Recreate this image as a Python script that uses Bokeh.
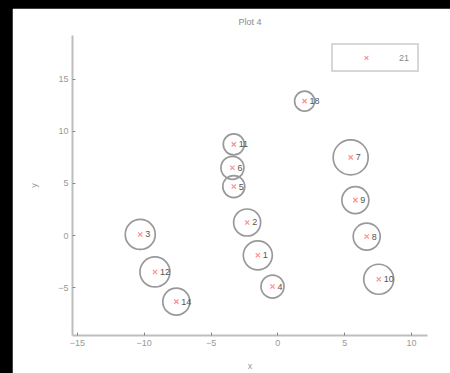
from bokeh.plotting import figure
from bokeh.models import ColumnDataSource, Range1d, FixedTicker
from bokeh.embed import file_html
from bokeh.resources import INLINE
from bokeh.core.properties import value

# data
labels = ["18", "11", "6", "5", "2", "1", "4", "3", "12", "14", "7", "9", "8", "10"]
xs = [2.0, -3.3, -3.4, -3.3, -2.3, -1.5, -0.4, -10.3, -9.2, -7.6, 5.45, 5.8, 6.65, 7.55]
ys = [12.9, 8.75, 6.5, 4.7, 1.25, -1.9, -4.9, 0.1, -3.5, -6.35, 7.5, 3.4, -0.1, -4.2]
circle_sizes = [20, 21, 23, 22, 27, 29, 23, 30, 30, 27, 35, 27, 27, 30]
legend_name = "21"
title_text = "Plot 4"
x_ticks = [-15, -10, -5, 0, 5, 10]
y_ticks = [-5, 0, 5, 10, 15]

src = ColumnDataSource(dict(x=xs, y=ys, lab=labels, s=circle_sizes))

FONT = "Liberation Sans"
p = figure(width=438, height=365, output_backend="svg", toolbar_location=None,
           x_range=Range1d(-15.37, 11.2), y_range=Range1d(-9.6, 19.2),
           min_border_left=60, min_border_right=23, min_border_top=27, min_border_bottom=38,
           title=title_text)
p.background_fill_color = "white"
p.border_fill_color = "white"
p.outline_line_color = "white"
p.outline_line_width = 3
p.xgrid.visible = False
p.ygrid.visible = False

p.title.align = "center"
p.title.text_font = FONT
p.title.text_font_size = "9px"
p.title.text_font_style = "normal"
p.title.text_color = "#8a8a8a"
p.title.vertical_align = "top"
p.title.standoff = 14

for ax, ticks in ((p.xaxis[0], x_ticks), (p.yaxis[0], y_ticks)):
    ax.ticker = FixedTicker(ticks=ticks)
    ax.axis_line_color = "#bdbdbd"
    ax.axis_line_width = 2
    ax.major_tick_line_color = "#888888"
    ax.major_tick_in = 3
    ax.major_tick_out = 0
    ax.minor_tick_line_color = None
    ax.major_label_text_font = FONT
    ax.major_label_text_font_size = "9px"
    ax.major_label_text_color = "#999999"
    ax.axis_label_text_font = FONT
    ax.axis_label_text_font_size = "9px"
    ax.axis_label_text_font_style = "normal"
    ax.axis_label_text_color = "#999999"
p.xaxis.axis_label = "x"
p.yaxis.axis_label = "y"
p.yaxis.major_label_standoff = 4
p.xaxis.major_label_standoff = 4
p.xaxis.axis_label_standoff = 12
p.yaxis.axis_label_standoff = 16

p.scatter("x", "y", source=src, marker="circle", size="s", fill_color=None,
          line_color="#999999", line_width=1.7)
p.scatter("x", "y", source=src, marker="x", size=6, line_color="#ff8f8f",
          line_width=1.2, legend_label=legend_name)
p.text("x", "y", text="lab", source=src, x_offset=5, text_font=value(FONT),
       text_font_size="9px", text_color="#555555", text_baseline="middle")

lg = p.legend[0]
lg.location = "top_right"
lg.margin = 8
lg.padding = 6
lg.spacing = 0
lg.glyph_width = 54
lg.glyph_height = 13
lg.label_standoff = 6
lg.label_width = 12
lg.label_text_font = FONT
lg.label_text_font_size = "9px"
lg.label_text_color = "#888888"
lg.border_line_color = "#b0b0b0"
lg.border_line_width = 2
lg.background_fill_alpha = 1

html = file_html(p, INLINE)
html = html.replace("</head>", "<style>html,body{background:#000;margin:0;}body{padding:8px 0 0 12px;}</style></head>", 1)
open("out.html", "w").write(html)
